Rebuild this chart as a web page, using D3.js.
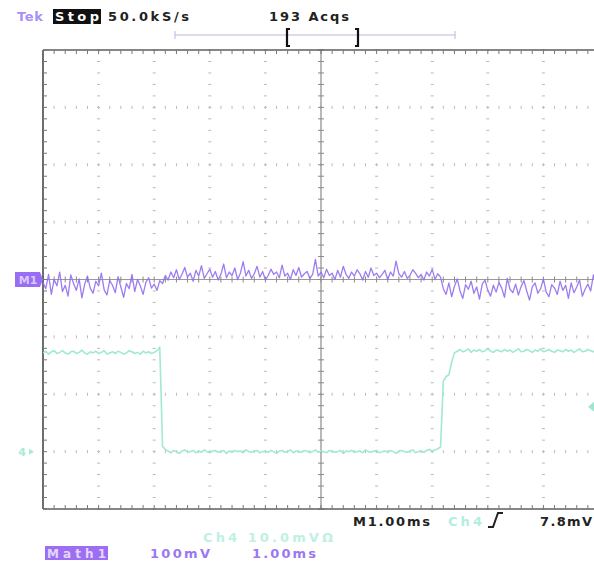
<!DOCTYPE html>
<html><head><meta charset="utf-8">
<script src="https://cdn.jsdelivr.net/npm/d3@7"></script>
<style>html,body{margin:0;padding:0;background:#fff;}svg{display:block;}</style>
</head><body>
<svg id="c" width="594" height="566"></svg>
<script>
const sampleIntervalMs = 0.05;           // ms between plotted samples
const timeDivisions = [0,1,2,3,4,5,6,7,8,9,10];
const voltDivisions = [-4,-3,-2,-1,0,1,2,3,4];
const math1ScaleMv = 100;                // mV / div
const ch4ScaleMv = 10;                   // mV / div
const ch4GroundDiv = -3;
const triggerLevelMv = 7.8;

// Math1 trace (mV)
const math1Values = [
 -5,-16,9,-26,0,-11,13,-21,-10,-29,8,-7,-19,1,-32,-8,6,-15,-24,-3,
 -11,11,-18,-27,-2,-10,-23,5,-13,-31,-7,-16,9,-21,0,-11,-26,-5,3,-15,
 -8,-19,-2,-7,
 7,-1,13,3,17,0,9,21,4,11,-3,16,6,24,2,10,18,4,14,-1,
 9,27,3,13,7,20,0,11,31,6,16,2,10,23,4,14,-1,7,18,9,
 13,3,25,6,11,0,17,7,21,4,10,14,2,9,35,6,13,3,18,7,
 11,0,16,4,23,9,2,13,6,17,10,-1,14,4,20,7,11,3,9,16,
 0,13,6,32,10,4,14,2,7,17,11,3,9,-1,13,6,18,0,10,4,
 -16,-26,-6,-30,-12,1,-20,-33,-9,-17,-3,-24,-13,-34,-8,-1,-19,-29,-10,-22,
 -5,-15,-31,2,-17,-23,-8,-27,-12,-2,-20,-36,-13,-6,-24,-16,1,-22,-30,-9,
 -15,-26,-3,-19,-10,-33,-6,-23,-13,-1,-29,-17,-8,-20,8,-12
];

// Ch4 trace (mV)
const ch4Values = [
 17.2,17.5,17.0,17.4,17.6,17.1,17.3,17.6,17.2,17.0,17.4,17.5,17.1,17.3,17.7,17.2,17.0,17.4,17.2,17.5,
 17.1,17.3,17.6,17.0,17.2,17.4,17.1,17.5,17.3,17.0,17.2,17.6,17.4,17.1,17.3,17.0,17.5,17.2,17.4,17.1,
 17.3,17.6,18.2,
 0.9,0.4,0.1,-0.2,0.2,0.0,-0.3,0.1,0.3,-0.1,0.0,0.2,-0.2,0.1,-0.1,0.3,0.0,-0.2,0.1,0.2,
 -0.1,0.0,0.2,-0.3,0.1,-0.1,0.2,0.0,0.1,-0.2,0.3,0.0,-0.1,0.1,0.2,-0.2,0.0,0.1,-0.1,0.2,
 0.0,-0.3,0.1,0.2,-0.1,0.0,0.3,-0.2,0.1,0.0,-0.1,0.2,0.1,-0.2,0.0,0.3,-0.1,0.1,0.0,-0.2,
 0.2,0.1,-0.1,0.0,0.2,-0.3,0.1,0.0,0.2,-0.1,0.0,0.1,-0.2,0.3,0.0,-0.1,0.1,0.2,-0.2,0.0,
 0.1,-0.1,0.2,0.0,-0.3,0.1,0.2,0.0,-0.1,0.1,0.3,-0.2,0.0,0.1,-0.1,0.2,0.4,0.1,0.3,0.5,
 0.8,
 12.3,13.1,13.4,15.6,17.2,
 17.5,17.8,17.4,17.6,17.9,17.3,17.7,17.5,17.8,17.4,17.6,17.9,17.5,17.3,17.7,17.6,17.4,17.8,17.5,17.7,
 17.3,17.6,17.9,17.4,17.5,17.8,17.6,17.3,17.7,17.5,17.9,17.4,17.6,17.8,17.5,17.3,17.7,17.6,17.4,17.8,
 17.5,17.7,17.3,17.6,17.9,17.4,17.5,17.8,17.6,17.4,17.7
];

const headerTexts = ["Tek", "Stop", "50.0kS/s", "193 Acqs"];
const footerTexts = ["M1.00ms", "Ch4", "7.8mV", "Ch4  10.0mVΩ", "Math1", "100mV", "1.00ms"];

// ---- drawing ----
const svg = d3.select("#c");
const x = d3.scaleLinear().domain([0,10]).range([43,599]);
const y = d3.scaleLinear().domain([-4,4]).range([509,50]);
const minorX = d3.range(0, 10.0001, 0.2);
const minorY = d3.range(-4, 4.0001, 0.2);

svg.append("rect").attr("width",594).attr("height",566).attr("fill","#fff");

const grid = svg.append("g");
const gridColor = "#b9b9b9";
timeDivisions.filter(d => d>0 && d<10 && d!==5).forEach(d => {
  grid.selectAll(null).data(minorY).enter().append("line")
    .attr("x1", x(d)-1.5).attr("x2", x(d)+1.5)
    .attr("y1", v=>y(v)).attr("y2", v=>y(v))
    .attr("stroke", gridColor).attr("stroke-width",1);
});
voltDivisions.filter(d => d>-4 && d<4 && d!==0).forEach(d => {
  grid.selectAll(null).data(minorX).enter().append("line")
    .attr("x1", v=>x(v)).attr("x2", v=>x(v))
    .attr("y1", y(d)-1.5).attr("y2", y(d)+1.5)
    .attr("stroke", gridColor).attr("stroke-width",1);
});
grid.append("line").attr("x1",x(5)).attr("x2",x(5)).attr("y1",y(4)).attr("y2",y(-4))
  .attr("stroke","#8a8a8a").attr("stroke-width",1.2);
grid.append("line").attr("x1",x(0)).attr("x2",x(10)).attr("y1",y(0)).attr("y2",y(0))
  .attr("stroke","#9a9a9a").attr("stroke-width",1);
grid.selectAll(null).data(minorY).enter().append("line")
  .attr("x1",x(5)-3).attr("x2",x(5)+3).attr("y1",v=>y(v)).attr("y2",v=>y(v))
  .attr("stroke","#8a8a8a");
grid.selectAll(null).data(minorX).enter().append("line")
  .attr("x1",v=>x(v)).attr("x2",v=>x(v)).attr("y1",y(0)-3).attr("y2",y(0)+3)
  .attr("stroke","#8a8a8a");
const border = svg.append("g").attr("stroke","#5e5e5e");
border.append("line").attr("x1",x(0)).attr("x2",x(10)).attr("y1",y(4)).attr("y2",y(4)).attr("stroke-width",1.6);
border.append("line").attr("x1",x(0)).attr("x2",x(10)).attr("y1",y(-4)).attr("y2",y(-4)).attr("stroke-width",1.6);
border.append("line").attr("x1",x(0)).attr("x2",x(0)).attr("y1",y(4)).attr("y2",y(-4)).attr("stroke-width",1.8);
border.selectAll(null).data(minorX).enter().append("line")
  .attr("x1",v=>x(v)).attr("x2",v=>x(v)).attr("y1",y(4)).attr("y2",y(4)+4).attr("stroke","#777");
border.selectAll(null).data(minorX).enter().append("line")
  .attr("x1",v=>x(v)).attr("x2",v=>x(v)).attr("y1",y(-4)).attr("y2",y(-4)-4).attr("stroke","#777");
border.selectAll(null).data(minorY).enter().append("line")
  .attr("x1",x(0)).attr("x2",x(0)+4).attr("y1",v=>y(v)).attr("y2",v=>y(v)).attr("stroke","#777");

// traces
svg.append("clipPath").attr("id","plotclip").append("rect")
  .attr("x",x(0)).attr("y",y(4)).attr("width",x(10)-x(0)).attr("height",y(-4)-y(4));
const traces = svg.append("g").attr("clip-path","url(#plotclip)");
const ch4Line = d3.line().x((d,i)=>x(i*sampleIntervalMs)).y(d=>y(ch4GroundDiv + d/ch4ScaleMv));
const mathLine = d3.line().x((d,i)=>x(i*sampleIntervalMs)).y(d=>y(d/math1ScaleMv));
traces.append("path").datum(ch4Values).attr("d",ch4Line)
  .attr("fill","none").attr("stroke","#a2e8d3").attr("stroke-width",1.6).attr("stroke-linejoin","round");
traces.append("path").datum(math1Values).attr("d",mathLine)
  .attr("fill","none").attr("stroke","#926ef0").attr("stroke-width",1.3).attr("stroke-linejoin","round").attr("opacity",0.9);

// left markers
const m1y = y(0);
svg.append("path").attr("d",`M15,${m1y-7.5} L40,${m1y-7.5} L43,${m1y} L40,${m1y+7.5} L15,${m1y+7.5} Z`)
  .attr("fill","#9a6ef2");
svg.append("text").attr("x",28).attr("y",m1y+4.5).attr("text-anchor","middle")
  .attr("font-family","DejaVu Sans").attr("font-weight","bold").attr("font-size",11)
  .attr("fill","#d8c8ff").text("M1");
const c4y = y(ch4GroundDiv);
svg.append("text").attr("x",22).attr("y",c4y+4).attr("text-anchor","middle")
  .attr("font-family","DejaVu Sans").attr("font-weight","bold").attr("font-size",11)
  .attr("fill","#a8ead8").text("4");
svg.append("path").attr("d",`M29,${c4y-3} L34,${c4y} L29,${c4y+3} Z`).attr("fill","#a8ead8");
const ty = y(ch4GroundDiv + triggerLevelMv/ch4ScaleMv);
svg.append("path").attr("d",`M588,${ty} L594,${ty-5} L594,${ty+5} Z`).attr("fill","#9fe6d0");

// header
const font = "DejaVu Sans";
svg.append("text").attr("x",17).attr("y",21).attr("font-family",font).attr("font-weight","bold")
  .attr("font-size",13).attr("fill","#a890f6").attr("textLength",26).text(headerTexts[0]);
svg.append("rect").attr("x",53).attr("y",9).attr("width",48).attr("height",15).attr("fill","#111");
svg.append("text").attr("x",55).attr("y",21).attr("font-family",font).attr("font-weight","bold")
  .attr("font-size",13).attr("fill","#fff").attr("textLength",44).text(headerTexts[1]);
svg.append("text").attr("x",108).attr("y",21).attr("font-family",font).attr("font-weight","bold")
  .attr("font-size",13).attr("fill","#222").attr("textLength",81).text(headerTexts[2]);
svg.append("text").attr("x",269).attr("y",21).attr("font-family",font).attr("font-weight","bold")
  .attr("font-size",13).attr("fill","#222").attr("textLength",80).text(headerTexts[3]);
svg.append("line").attr("x1",175).attr("x2",455).attr("y1",35).attr("y2",35).attr("stroke","#b8b8e2").attr("stroke-width",1.2);
svg.append("line").attr("x1",175).attr("x2",175).attr("y1",31).attr("y2",39).attr("stroke","#b8b8e2");
svg.append("line").attr("x1",455).attr("x2",455).attr("y1",31).attr("y2",39).attr("stroke","#b8b8e2");
svg.append("path").attr("d","M290,29 L287,29 L287,46 L290,46").attr("fill","none").attr("stroke","#111").attr("stroke-width",2.2);
svg.append("path").attr("d","M355,29 L358,29 L358,46 L355,46").attr("fill","none").attr("stroke","#111").attr("stroke-width",2.2);

// footer
svg.append("text").attr("x",353).attr("y",526).attr("font-family",font).attr("font-weight","bold")
  .attr("font-size",13).attr("fill","#222").attr("textLength",77).text(footerTexts[0]);
svg.append("text").attr("x",448).attr("y",526).attr("font-family",font).attr("font-weight","bold")
  .attr("font-size",13).attr("fill","#b2eedf").attr("textLength",34).text(footerTexts[1]);
svg.append("path").attr("d","M488,527 L493,527 L498,513 L503,513").attr("fill","none").attr("stroke","#222").attr("stroke-width",2);
svg.append("text").attr("x",540).attr("y",526).attr("font-family",font).attr("font-weight","bold")
  .attr("font-size",13).attr("fill","#222").attr("textLength",52).text(footerTexts[2]);
svg.append("text").attr("x",203).attr("y",542).attr("font-family",font).attr("font-weight","bold")
  .attr("font-size",13).attr("fill","#bff0e4").attr("textLength",130).text(footerTexts[3]);
svg.append("rect").attr("x",45).attr("y",546).attr("width",63).attr("height",14).attr("fill","#9c6ff2");
svg.append("text").attr("x",47).attr("y",558).attr("font-family",font).attr("font-weight","bold")
  .attr("font-size",12).attr("fill","#e4d6ff").attr("textLength",59).text(footerTexts[4]);
svg.append("text").attr("x",150).attr("y",558).attr("font-family",font).attr("font-weight","bold")
  .attr("font-size",13).attr("fill","#9a78f2").attr("textLength",60).text(footerTexts[5]);
svg.append("text").attr("x",252).attr("y",558).attr("font-family",font).attr("font-weight","bold")
  .attr("font-size",13).attr("fill","#9a78f2").attr("textLength",64).text(footerTexts[6]);
</script>
</body></html>
